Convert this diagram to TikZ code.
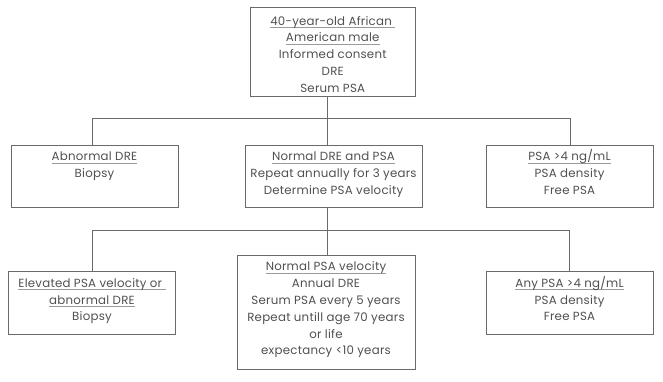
\documentclass[tikz,border=0pt]{standalone}
\usepackage{fontspec}
\setmainfont{Poppins}[LetterSpace=2]
\usepackage{xcolor}
\definecolor{txtgray}{HTML}{505050}
\definecolor{linegray}{HTML}{6A6A6A}
\definecolor{ulgray}{HTML}{9A9A9A}
\newcommand{\ulx}[1]{\leavevmode\setbox0\hbox{#1}\rlap{\color{ulgray}\rule[-2.4pt]{\wd0}{0.8pt}}\box0}
\newcommand{\boxtxt}[4]{\parbox[c][#2][t]{#1}{\centering\fontsize{11.8}{16.8}\selectfont\leavevmode\rule{0pt}{#3}#4\par}}
\tikzset{
  box/.style={draw=linegray, line width=1pt, inner sep=0pt, outer sep=0pt, text=txtgray, anchor=north west},
  conn/.style={draw=linegray, line width=1pt}
}
\begin{document}
\begin{tikzpicture}[x=1pt,y=-1pt]
\useasboundingbox (0,0) rectangle (663,381);
\node[box] (top) at (250,7.5) {\boxtxt{165.5pt}{89.2pt}{17.6pt}{\ulx{40-year-old African }\par \ulx{American male}\par Informed consent\par DRE\par Serum PSA}};
\node[box] (a) at (11,145) {\boxtxt{167pt}{62.5pt}{15.9pt}{\ulx{Abnormal DRE}\par Biopsy}};
\node[box] (b) at (245,145) {\boxtxt{177pt}{62pt}{15.9pt}{\ulx{Normal DRE and PSA}\par Repeat annually for 3 years\par Determine PSA velocity}};
\node[box] (c) at (486,145) {\boxtxt{167pt}{62pt}{15.9pt}{\ulx{PSA >4 ng/mL}\par PSA density\par Free PSA}};
\node[box] (d) at (8.5,271.7) {\boxtxt{167pt}{62.6pt}{15.5pt}{\ulx{Elevated PSA velocity or }\par \ulx{abnormal DRE}\par Biopsy}};
\node[box] (e) at (237,255) {\boxtxt{178pt}{114pt}{15.9pt}{\ulx{Normal PSA velocity}\par Annual DRE\par Serum PSA every 5 years\par Repeat untill age 70 years\par or life\par expectancy <10 years}};
\node[box] (f) at (486,271.7) {\boxtxt{167pt}{62.6pt}{15.5pt}{\ulx{Any PSA >4 ng/mL}\par PSA density\par Free PSA}};
\coordinate (j1) at (327.5,118);
\coordinate (l1) at (92.5,118);
\coordinate (r1) at (570,118);
\coordinate (j2) at (327.5,230.5);
\coordinate (l2) at (92,230.5);
\coordinate (r2) at (569,230.5);
\draw[conn] (top.south -| j1) -- (j1);
\draw[conn] (l1 |- a.north) -- (l1) -- (r1) -- (r1 |- c.north);
\draw[conn] (j1) -- (j1 |- b.north);
\draw[conn] (b.south -| j2) -- (j2);
\draw[conn] (l2 |- d.north) -- (l2) -- (r2) -- (r2 |- f.north);
\draw[conn] (j2) -- (j2 |- e.north);
\end{tikzpicture}
\end{document}
